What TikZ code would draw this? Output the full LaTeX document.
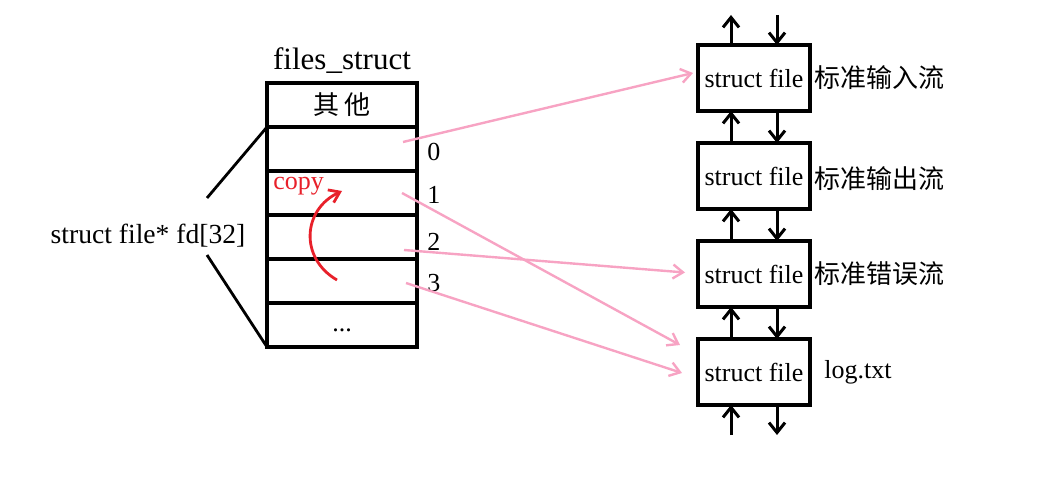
\documentclass[tikz,border=0pt]{standalone}
\usepackage{fontspec}
\setmainfont{Liberation Serif}
\newfontfamily\cjk{Noto Sans CJK SC}
\usepackage{tikz}
\usetikzlibrary{arrows.meta,positioning}
\definecolor{linkpink}{HTML}{F7A3C3}
\definecolor{copyred}{HTML}{E8202A}

\begin{document}
\begin{tikzpicture}[
  x=0.5pt, y=-0.5pt,
  every node/.style={font=\fontsize{13}{15}\selectfont},
  cell/.style={draw, line width=1.6pt, outer sep=0pt,
               minimum width=75pt, minimum height=22pt, inner sep=0pt},
  filebox/.style={draw, line width=1.6pt, outer sep=0pt,
                  minimum width=56pt, minimum height=33pt, inner sep=2pt},
  idx/.style={inner sep=1pt},
  tag/.style={inner sep=1pt, anchor=west},
  arr/.style={-{Straight Barb[length=5pt,width=8pt]}, line width=1.5pt},
  link/.style={-{Straight Barb[length=5pt,width=7pt]}, line width=1.2pt, linkpink},
  copyarr/.style={-{Straight Barb[length=5pt,width=7pt]}, line width=1.4pt, copyred}
]
  \useasboundingbox (0,0) rectangle (1047,480);

  %% files_struct table
  \node[cell] (other) at (342,105) {\cjk 其\,他};
  \node[cell, below=0pt of other] (fd0) {};
  \node[cell, below=0pt of fd0] (fd1) {};
  \node[cell, below=0pt of fd1] (fd2) {};
  \node[cell, below=0pt of fd2] (fd3) {};
  \node[cell, below=0pt of fd3] (rest) {\rule{0pt}{7pt}...};
  \node[above=1pt of other, font=\fontsize{15.5}{17}\selectfont] (title) {files\_struct};

  \node[idx, right=4pt of fd0.east, yshift=-1.5pt] (i0) {0};
  \node[idx, right=4pt of fd1.east, yshift=-1pt] (i1) {1};
  \node[idx, right=4pt of fd2.east, yshift=-2.5pt] (i2) {2};
  \node[idx, right=4pt of fd3.east, yshift=-1pt] (i3) {3};

  %% fd array label
  \node[font=\fontsize{13.8}{16}\selectfont] (fdarr) at (148,236) {struct file* fd[32]};
  \coordinate (bt) at (207,198);
  \coordinate (bb) at (207,255);
  \draw[line width=1.4pt] (fd0.north west) -- (bt);
  \draw[line width=1.4pt] (bb) -- (rest.south west);

  \node[tag, text=copyred, anchor=west] (copy) at ([xshift=2pt,yshift=3.5pt]fd1.west) {copy};
  \draw[copyarr] ([xshift=-2.5pt,yshift=0.5pt]fd3.center) to[out=150, in=205, looseness=1.25]
    ([yshift=1pt]fd1.center);

  %% struct file chain
  \node[filebox] (sf0) at (754,78) {struct file};
  \node[filebox, below=16pt of sf0] (sf1) {struct file};
  \node[filebox, below=16pt of sf1] (sf2) {struct file};
  \node[filebox, below=16pt of sf2] (sf3) {struct file};
  \coordinate[above=15pt of sf0] (topend);
  \coordinate[below=15pt of sf3] (botend);

  \node[tag, right=1pt of sf0.east] (l0) {\cjk 标准输入流};
  \node[tag, right=1pt of sf1.east, yshift=-1.5pt] (l1) {\cjk 标准输出流};
  \node[tag, right=1pt of sf2.east] (l2) {\cjk 标准错误流};
  \node[tag, right=6pt of sf3.east] (l3) {log.txt};

  \draw[arr] ([xshift=-11.5pt]sf0.north) -- ([xshift=-11.5pt]topend);
  \draw[arr] ([xshift=11.5pt]topend) -- ([xshift=11.5pt]sf0.north);
  \foreach \a/\b in {sf0/sf1, sf1/sf2, sf2/sf3} {
    \draw[arr] ([xshift=-11.5pt]\b.north) -- ([xshift=-11.5pt]\a.south);
    \draw[arr] ([xshift=11.5pt]\a.south) -- ([xshift=11.5pt]\b.north);
  }
  \draw[arr] ([xshift=-11.5pt]botend) -- ([xshift=-11.5pt]sf3.south);
  \draw[arr] ([xshift=11.5pt]sf3.south) -- ([xshift=11.5pt]botend);

  %% fd -> struct file links
  \draw[link] ([xshift=-7pt,yshift=3.5pt]fd0.east) -- ([xshift=-2.5pt,yshift=2.5pt]sf0.west);
  \draw[link] ([xshift=-7.5pt]fd1.east) -- ([xshift=-9pt,yshift=13.5pt]sf3.west);
  \draw[link] ([xshift=-6.5pt,yshift=-6.5pt]fd2.east) -- ([xshift=-6.5pt,yshift=0.75pt]sf2.west);
  \draw[link] ([xshift=-5.5pt,yshift=-1pt]fd3.east) -- ([xshift=-8pt,yshift=-0.5pt]sf3.west);
\end{tikzpicture}
\end{document}
